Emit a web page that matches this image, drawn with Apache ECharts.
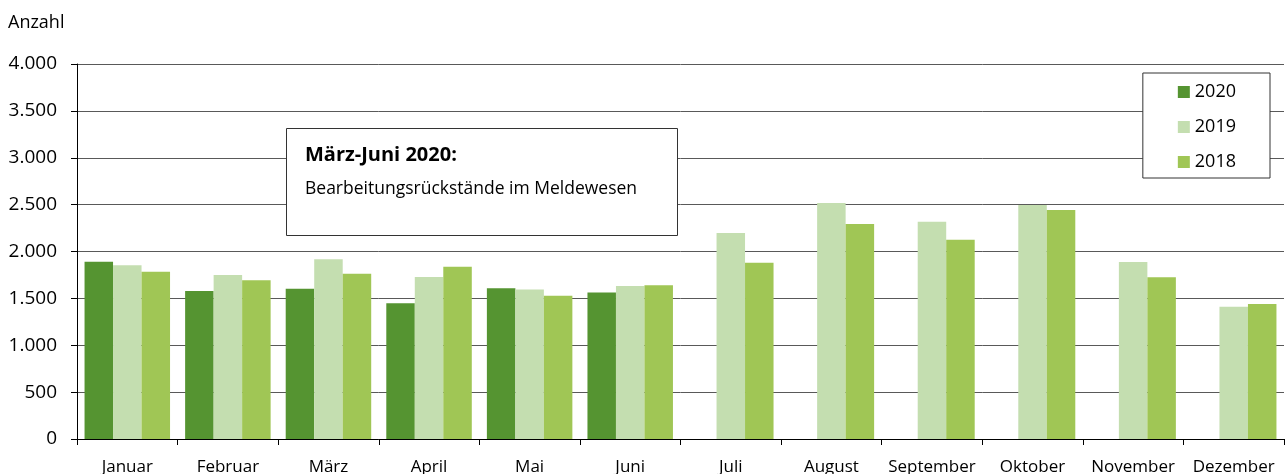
<!DOCTYPE html>
<html>
<head>
<meta charset="utf-8">
<script src="https://cdn.jsdelivr.net/npm/echarts@6/dist/echarts.min.js"></script>
<style>
html,body{margin:0;padding:0;background:#fff;}
#c{width:1285px;height:474px;}
</style>
</head>
<body>
<div id="c"></div>
<script>
const months = ['Januar','Februar','März','April','Mai','Juni','Juli','August','September','Oktober','November','Dezember'];
const s2020 = [1891, 1579, 1603, 1447, 1607, 1564, null, null, null, null, null, null];
const s2019 = [1853, 1749, 1917, 1728, 1596, 1632, 2197, 2517, 2318, 2496, 1888, 1411];
const s2018 = [1785, 1693, 1763, 1838, 1529, 1639, 1881, 2293, 2126, 2443, 1725, 1440];
const seriesNames = ['2020', '2019', '2018'];
const yTicks = {min: 0, max: 4000, interval: 500};
const axisTitle = 'Anzahl';
const noteTitle = 'März-Juni 2020:';
const noteText = 'Bearbeitungsrückstände im Meldewesen';

const FONT = '"Open Sans", "Noto Sans", sans-serif';
const colors = ['#559431', '#C4DEB0', '#A0C655'];

const chart = echarts.init(document.getElementById('c'), null, {renderer: 'canvas'});
const fmt = v => String(v).replace(/\B(?=(\d{3})+(?!\d))/g, '.');

chart.setOption({
  animation: false,
  backgroundColor: '#fff',
  textStyle: {fontFamily: FONT},
  grid: {left: 77, right: 1, top: 64, bottom: 35, containLabel: false, outerBoundsMode: 'none'},
  legend: {
    orient: 'vertical',
    right: 15,
    top: 73,
    data: seriesNames,
    icon: 'rect',
    itemWidth: 12,
    itemHeight: 12,
    itemGap: 17,
    padding: [10, 34, 7, 35],
    borderColor: '#333',
    borderWidth: 1,
    backgroundColor: '#fff',
    textStyle: {fontFamily: FONT, fontSize: 18, color: '#000'}
  },
  xAxis: {
    type: 'category',
    data: months,
    boundaryGap: true,
    axisLine: {lineStyle: {color: '#000', width: 1}},
    axisTick: {show: true, length: 6, lineStyle: {color: '#000'}},
    axisLabel: {color: '#000', fontSize: 17, margin: 20, fontFamily: FONT, interval: 0}
  },
  yAxis: {
    type: 'value',
    min: yTicks.min, max: yTicks.max, interval: yTicks.interval,
    axisLine: {show: true, lineStyle: {color: '#000', width: 1}},
    axisTick: {show: true, length: 6, lineStyle: {color: '#000'}},
    splitLine: {show: true, lineStyle: {color: '#595959', width: 1}},
    axisLabel: {color: '#000', fontSize: 19, margin: 20, fontFamily: FONT, formatter: fmt}
  },
  series: [
    {name: seriesNames[0], type: 'bar', data: s2020, itemStyle: {color: colors[0]}, barGap: '0%', barCategoryGap: '15%'},
    {name: seriesNames[1], type: 'bar', data: s2019, itemStyle: {color: colors[1]}, barGap: '0%', barCategoryGap: '15%'},
    {name: seriesNames[2], type: 'bar', data: s2018, itemStyle: {color: colors[2]}, barGap: '0%', barCategoryGap: '15%'}
  ],
  graphic: [
    {type: 'text', left: 8, top: 14, style: {text: axisTitle, fontSize: 18, fill: '#000', fontFamily: FONT}},
    {type: 'rect', shape: {x: 286.5, y: 128.5, width: 391, height: 107}, style: {fill: '#fff', stroke: '#333', lineWidth: 1}, z: 100},
    {type: 'text', x: 305, y: 145, style: {text: noteTitle, fontSize: 20, fontWeight: 'bold', fill: '#000', fontFamily: FONT}, z: 101},
    {type: 'text', x: 305, y: 180, style: {text: noteText, fontSize: 17.5, fill: '#000', fontFamily: FONT}, z: 101}
  ]
});
</script>
</body>
</html>
